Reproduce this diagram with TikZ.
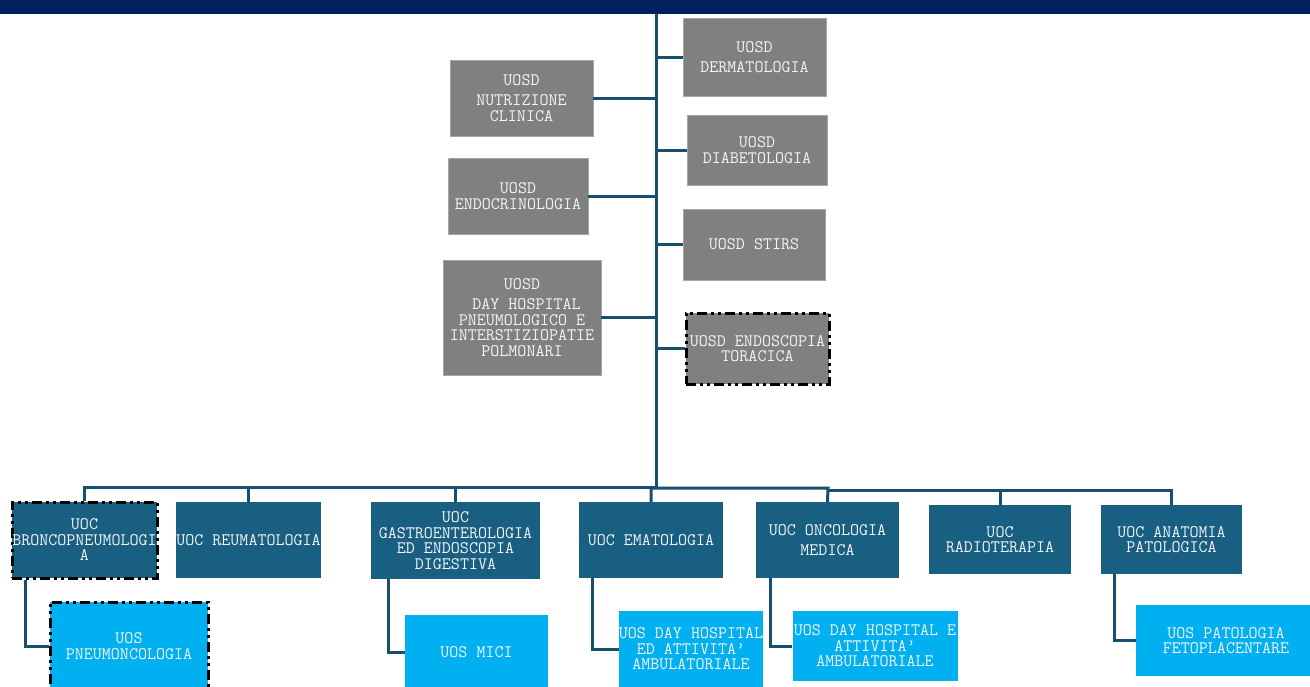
\documentclass[tikz,border=0pt]{standalone}
\usepackage{fontspec}
\definecolor{topc}{HTML}{002060}
\definecolor{connc}{HTML}{184F6E}
\definecolor{uocc}{HTML}{185F82}
\definecolor{uosc}{HTML}{00B0F0}
\definecolor{greyc}{HTML}{808080}
\definecolor{greyb}{HTML}{A6A6A6}
\definecolor{txtc}{HTML}{F4F4F4}
\tikzset{
  base/.style={rectangle, inner sep=0pt, align=center, text=txtc,
    font=\fontsize{17.5}{15.5}\selectfont\ttfamily},
  gbox/.style={base, fill=greyc, draw=greyb, line width=0.6pt},
  uoc/.style={base, fill=uocc},
  uos/.style={base, fill=uosc},
  dd/.style={draw=black, line width=3pt,
    dash pattern=on 10pt off 4pt on 3pt off 4pt on 3pt off 4pt},
  conn/.style={draw=connc, line width=3pt},
  wh/.style 2 args={minimum width=#1pt, minimum height=#2pt}
}
\begin{document}
\begin{tikzpicture}[x=1pt,y=-1pt]
\useasboundingbox (0,0) rectangle (1310,686);
\clip (0,0) rectangle (1310,686);
% top band
\node[fill=topc, inner sep=0pt, anchor=north west, minimum width=1310pt, minimum height=14pt] (band) at (0,0) {};
\coordinate (t0) at (656,14);
\coordinate (t1) at (656,487);
\coordinate (b2) at (828,488);
\coordinate (b3) at (828,490);
\draw[conn] (t0) -- (t1);

% grey UOSD boxes, left
\node[gbox, wh={143}{76}] (nut) at (521.5,98) {UOSD\\[5pt]NUTRIZIONE\\CLINICA};
\node[gbox, wh={140}{76}] (endo) at (518,196) {UOSD\\ENDOCRINOLOGIA};
\node[gbox, wh={158}{115}] (dh) at (522,317.5) {UOSD\\[5pt]\ DAY HOSPITAL\\PNEUMOLOGICO E\\INTERSTIZIOPATIE\\POLMONARI};
% grey UOSD boxes, right
\node[gbox, wh={143}{78}] (derm) at (754.5,57) {UOSD\\[5pt]DERMATOLOGIA};
\node[gbox, wh={140}{70}] (diab) at (757,150) {UOSD\\DIABETOLOGIA};
\node[gbox, wh={142}{71}] (stirs) at (754,244.5) {UOSD STIRS};
\node[gbox, dd, wh={143}{71}] (endos) at (757.5,348.5) {UOSD ENDOSCOPIA\\TORACICA};

\draw[conn] (nut.east) -- (nut.east -| t0);
\draw[conn] (endo.east) -- (endo.east -| t0);
\draw[conn] (dh.east) -- (dh.east -| t0);
\draw[conn] (derm.west -| t0) -- (derm.west);
\draw[conn] (diab.west -| t0) -- (diab.west);
\draw[conn] (stirs.west -| t0) -- (stirs.west);
\draw[conn] (endos.west -| t0) -- (endos.west);

% UOC boxes
\node[uoc, dd, wh={145}{76}] (bron) at (84.5,540) {UOC\\BRONCOPNEUMOLOGI\\A};
\node[uoc, wh={143}{76}] (reum) at (248.5,540) {UOC REUMATOLOGIA};
\node[uoc, wh={169}{77}] (gastro) at (455.5,540.5) {UOC\\GASTROENTEROLOGIA\\ED ENDOSCOPIA\\DIGESTIVA};
\node[uoc, wh={144}{76}] (emato) at (651,540) {UOC EMATOLOGIA};
\node[uoc, wh={143}{76}] (onco) at (827.5,540) {UOC ONCOLOGIA\\[5pt]MEDICA};
\node[uoc, wh={142}{69}] (radio) at (1000,539.5) {UOC\\RADIOTERAPIA};
\node[uoc, wh={141}{69}] (anat) at (1171.5,539.5) {UOC ANATOMIA\\PATOLOGICA};

\draw[conn] (bron.north) |- (t1);
\draw[conn] (reum.north) |- (t1);
\draw[conn] (gastro.north) |- (t1);
\draw[conn] (emato.north) |- (b2) -- (onco.north);
\draw[conn] (radio.north) |- (b3);
\draw[conn] (anat.north) |- (b3);

% UOS boxes
\node[uos, dd, wh={158}{88}] (pneumo) at (129,646) {UOS\\PNEUMONCOLOGIA};
\node[uos, wh={143}{75}] (mici) at (476.5,652.5) {UOS MICI};
\node[uos, wh={142}{76}] (dh1) at (691,649) {UOS DAY HOSPITAL\\ED ATTIVITA’\\AMBULATORIALE};
\node[uos, wh={165}{70}] (dh2) at (875,646) {UOS DAY HOSPITAL E\\ATTIVITA’\\AMBULATORIALE};
\node[uos, wh={180}{71}] (pato) at (1226,640.5) {UOS PATOLOGIA\\FETOPLACENTARE};

\draw[conn] ([xshift=15pt]bron.south west) |- (pneumo.west);
\draw[conn] ([xshift=18pt]gastro.south west) |- (mici.west);
\draw[conn] ([xshift=14pt]emato.south west) |- (dh1.west);
\draw[conn] ([xshift=15pt]onco.south west) |- (dh2.west);
\draw[conn] ([xshift=14pt]anat.south west) |- (pato.west);
\end{tikzpicture}
\end{document}
